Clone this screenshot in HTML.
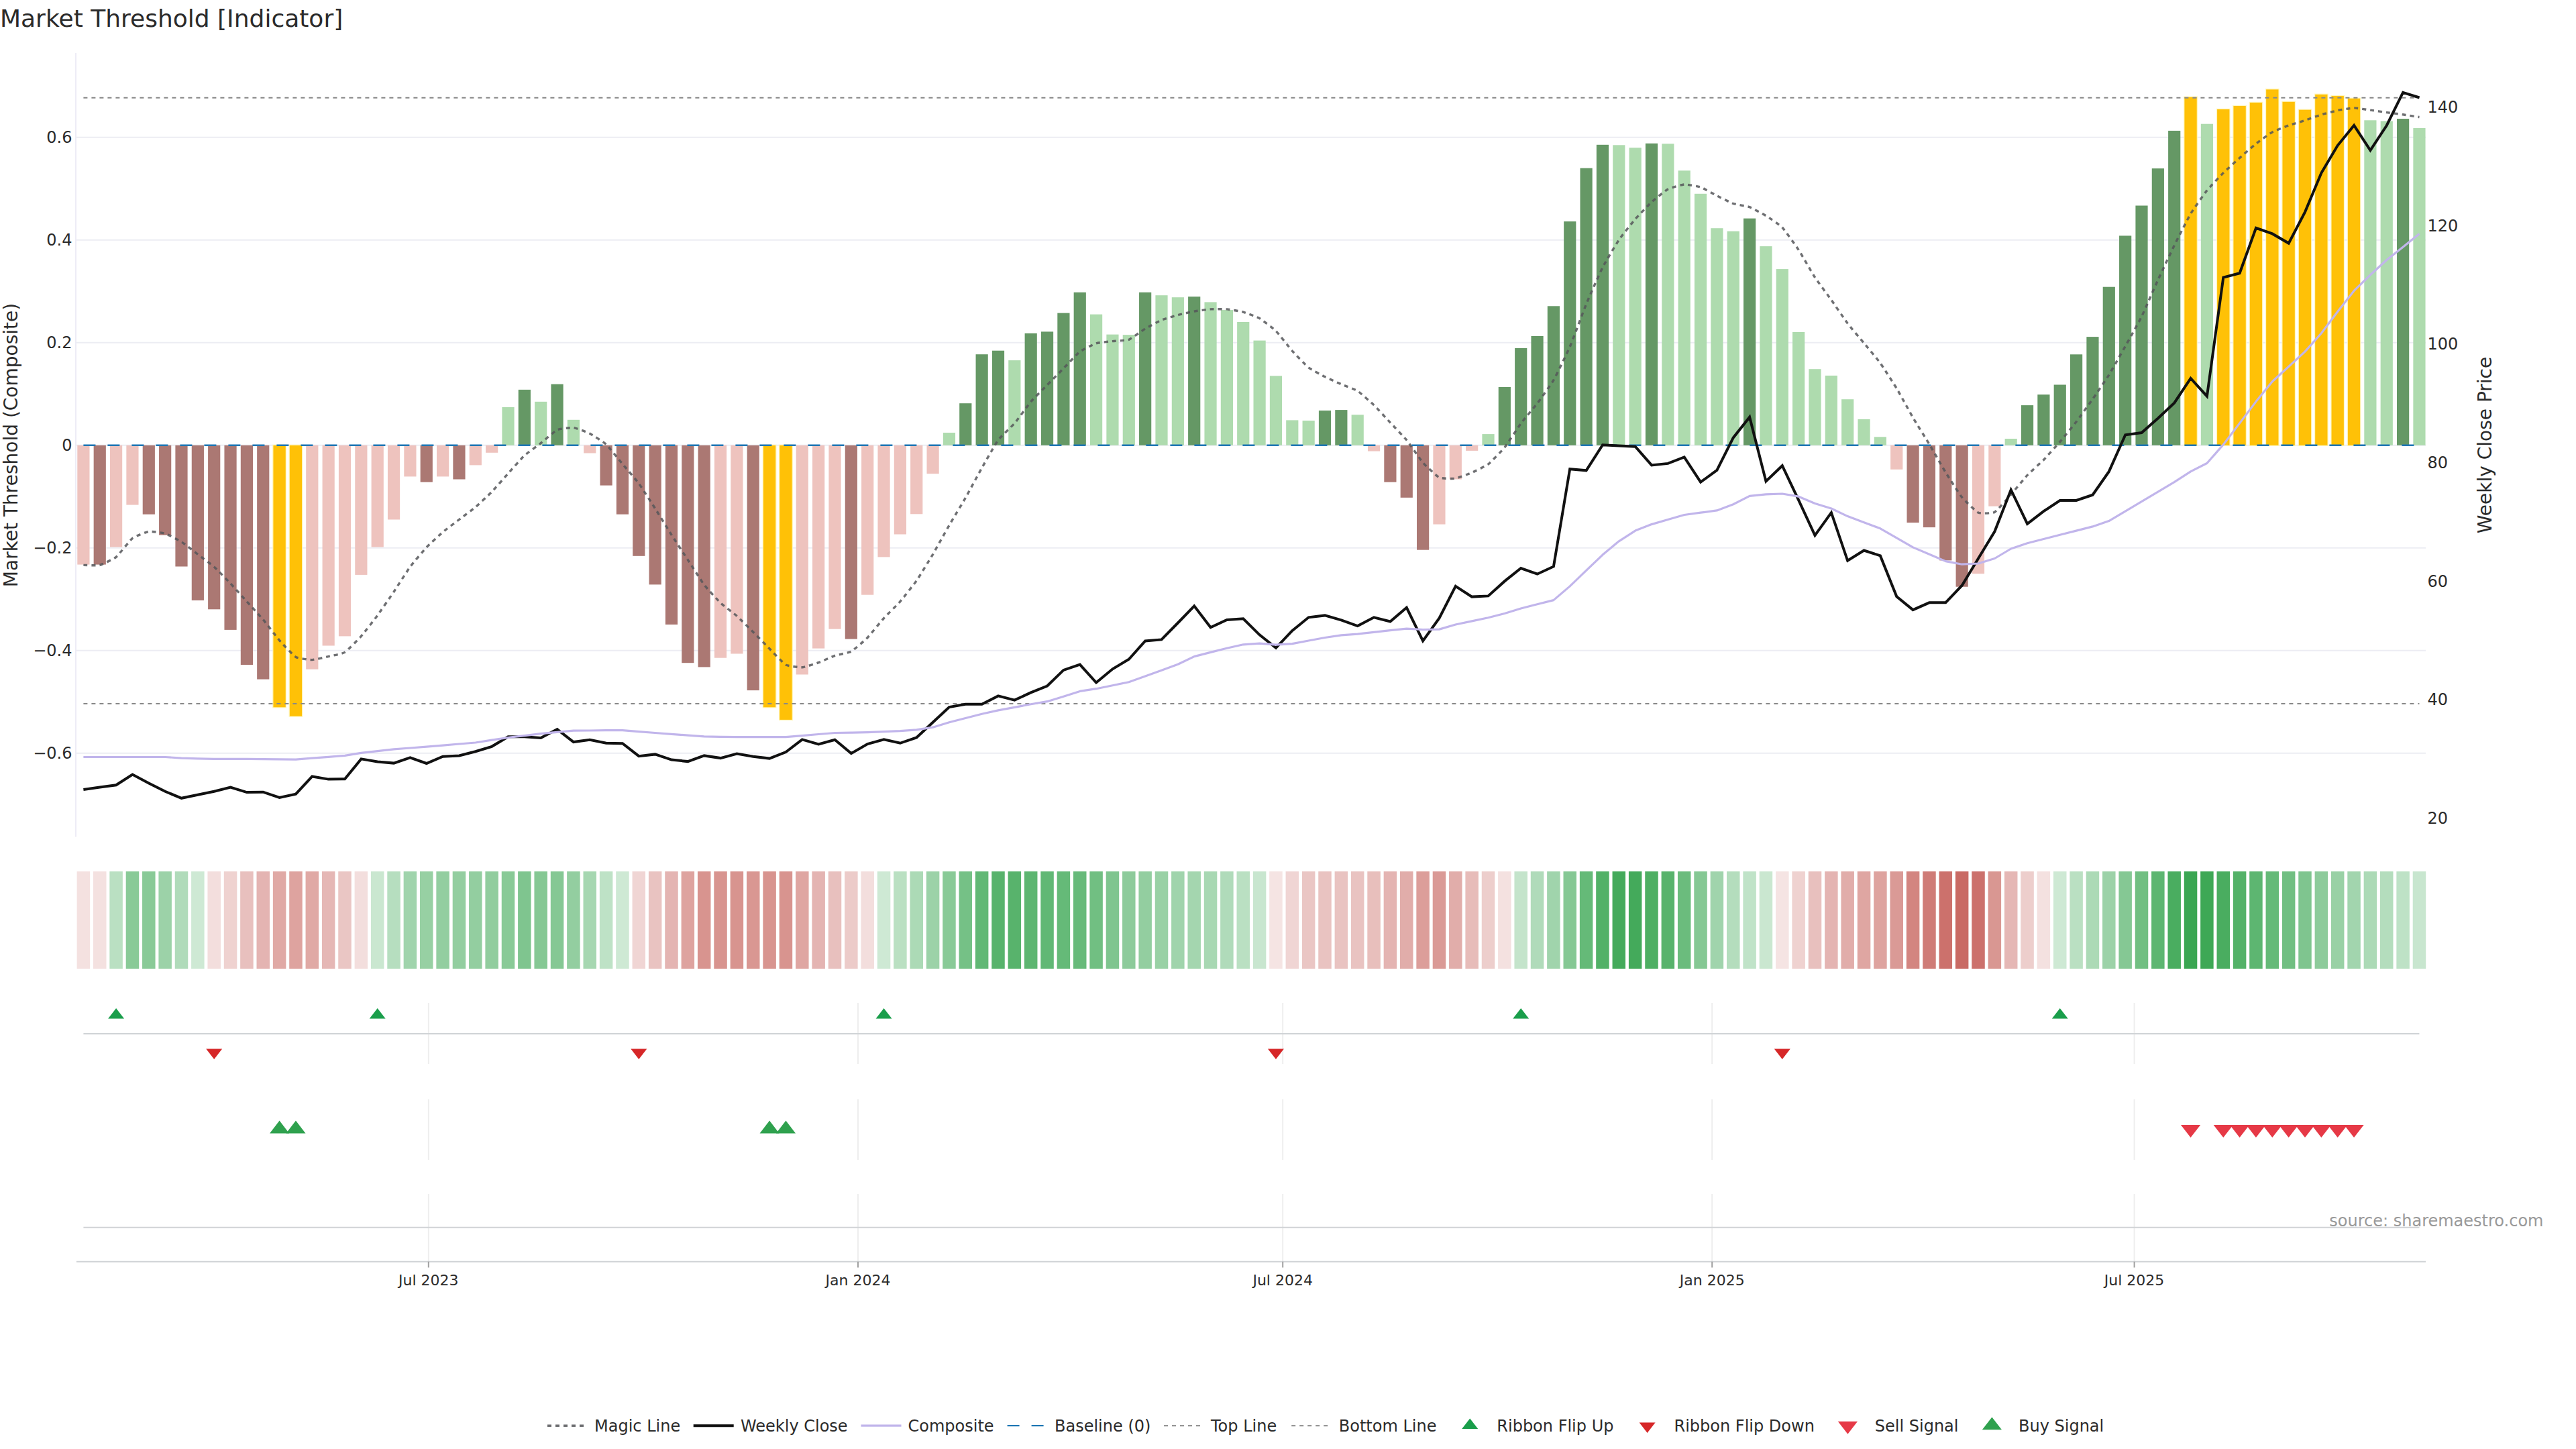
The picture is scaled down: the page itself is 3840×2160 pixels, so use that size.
<!DOCTYPE html>
<html><head><meta charset="utf-8"><title>Market Threshold [Indicator]</title>
<style>html,body{margin:0;padding:0;background:#fff;}svg{display:block}</style></head>
<body>
<svg width="3840" height="2160" viewBox="0 0 3840 2160" font-family="'DejaVu Sans','Liberation Sans',sans-serif">
<rect width="3840" height="2160" fill="#fff"/>
<line x1="113.0" x2="3616.0" y1="204.8" y2="204.8" stroke="#ECEDF3" stroke-width="2"/>
<line x1="113.0" x2="3616.0" y1="357.8" y2="357.8" stroke="#ECEDF3" stroke-width="2"/>
<line x1="113.0" x2="3616.0" y1="510.8" y2="510.8" stroke="#ECEDF3" stroke-width="2"/>
<line x1="113.0" x2="3616.0" y1="663.8" y2="663.8" stroke="#ECEDF3" stroke-width="2"/>
<line x1="113.0" x2="3616.0" y1="816.8" y2="816.8" stroke="#ECEDF3" stroke-width="2"/>
<line x1="113.0" x2="3616.0" y1="969.8" y2="969.8" stroke="#ECEDF3" stroke-width="2"/>
<line x1="113.0" x2="3616.0" y1="1122.8" y2="1122.8" stroke="#ECEDF3" stroke-width="2"/>
<line x1="113.0" x2="113.0" y1="79.0" y2="1247.5" stroke="#EDECF6" stroke-width="2"/>
<rect x="115.30" y="663.8" width="18.2" height="177.8" fill="#EEC3BE"/>
<rect x="139.65" y="663.8" width="18.2" height="177.8" fill="#AB7873"/>
<rect x="164.00" y="663.8" width="18.2" height="151.7" fill="#EEC3BE"/>
<rect x="188.35" y="663.8" width="18.2" height="88.8" fill="#EEC3BE"/>
<rect x="212.70" y="663.8" width="18.2" height="102.9" fill="#AB7873"/>
<rect x="237.05" y="663.8" width="18.2" height="133.9" fill="#AB7873"/>
<rect x="261.40" y="663.8" width="18.2" height="180.7" fill="#AB7873"/>
<rect x="285.75" y="663.8" width="18.2" height="231.2" fill="#AB7873"/>
<rect x="310.10" y="663.8" width="18.2" height="244.5" fill="#AB7873"/>
<rect x="334.45" y="663.8" width="18.2" height="275.1" fill="#AB7873"/>
<rect x="358.80" y="663.8" width="18.2" height="327.3" fill="#AB7873"/>
<rect x="383.15" y="663.8" width="18.2" height="348.8" fill="#AB7873"/>
<rect x="406.85" y="663.3" width="19.5" height="391.6" fill="#FFC107" stroke="#FFF6B8" stroke-width="1.2"/>
<rect x="431.20" y="663.3" width="19.5" height="404.8" fill="#FFC107" stroke="#FFF6B8" stroke-width="1.2"/>
<rect x="456.20" y="663.8" width="18.2" height="333.9" fill="#EEC3BE"/>
<rect x="480.55" y="663.8" width="18.2" height="298.7" fill="#EEC3BE"/>
<rect x="504.90" y="663.8" width="18.2" height="284.6" fill="#EEC3BE"/>
<rect x="529.25" y="663.8" width="18.2" height="193.1" fill="#EEC3BE"/>
<rect x="553.60" y="663.8" width="18.2" height="151.7" fill="#EEC3BE"/>
<rect x="577.95" y="663.8" width="18.2" height="110.7" fill="#EEC3BE"/>
<rect x="602.30" y="663.8" width="18.2" height="46.6" fill="#EEC3BE"/>
<rect x="626.65" y="663.8" width="18.2" height="54.9" fill="#AB7873"/>
<rect x="651.00" y="663.8" width="18.2" height="46.6" fill="#EEC3BE"/>
<rect x="675.35" y="663.8" width="18.2" height="50.7" fill="#AB7873"/>
<rect x="699.70" y="663.8" width="18.2" height="29.6" fill="#EEC3BE"/>
<rect x="724.05" y="663.8" width="18.2" height="11.0" fill="#EEC3BE"/>
<rect x="748.40" y="607.0" width="18.2" height="56.8" fill="#AEDBAE"/>
<rect x="772.75" y="580.9" width="18.2" height="82.9" fill="#659865"/>
<rect x="797.10" y="598.8" width="18.2" height="65.0" fill="#AEDBAE"/>
<rect x="821.45" y="572.7" width="18.2" height="91.1" fill="#659865"/>
<rect x="845.80" y="625.8" width="18.2" height="38.0" fill="#AEDBAE"/>
<rect x="870.15" y="663.8" width="18.2" height="11.7" fill="#EEC3BE"/>
<rect x="894.50" y="663.8" width="18.2" height="59.8" fill="#AB7873"/>
<rect x="918.85" y="663.8" width="18.2" height="102.9" fill="#AB7873"/>
<rect x="943.20" y="663.8" width="18.2" height="165.0" fill="#AB7873"/>
<rect x="967.55" y="663.8" width="18.2" height="207.6" fill="#AB7873"/>
<rect x="991.90" y="663.8" width="18.2" height="267.2" fill="#AB7873"/>
<rect x="1016.25" y="663.8" width="18.2" height="324.4" fill="#AB7873"/>
<rect x="1040.60" y="663.8" width="18.2" height="330.6" fill="#AB7873"/>
<rect x="1064.95" y="663.8" width="18.2" height="316.9" fill="#EEC3BE"/>
<rect x="1089.30" y="663.8" width="18.2" height="310.7" fill="#EEC3BE"/>
<rect x="1113.65" y="663.8" width="18.2" height="365.3" fill="#AB7873"/>
<rect x="1137.35" y="663.3" width="19.5" height="391.6" fill="#FFC107" stroke="#FFF6B8" stroke-width="1.2"/>
<rect x="1161.70" y="663.3" width="19.5" height="410.2" fill="#FFC107" stroke="#FFF6B8" stroke-width="1.2"/>
<rect x="1186.70" y="663.8" width="18.2" height="341.7" fill="#EEC3BE"/>
<rect x="1211.05" y="663.8" width="18.2" height="302.8" fill="#EEC3BE"/>
<rect x="1235.40" y="663.8" width="18.2" height="273.9" fill="#EEC3BE"/>
<rect x="1259.75" y="663.8" width="18.2" height="288.8" fill="#AB7873"/>
<rect x="1284.10" y="663.8" width="18.2" height="222.9" fill="#EEC3BE"/>
<rect x="1308.45" y="663.8" width="18.2" height="166.6" fill="#EEC3BE"/>
<rect x="1332.80" y="663.8" width="18.2" height="132.7" fill="#EEC3BE"/>
<rect x="1357.15" y="663.8" width="18.2" height="102.5" fill="#EEC3BE"/>
<rect x="1381.50" y="663.8" width="18.2" height="42.4" fill="#EEC3BE"/>
<rect x="1405.85" y="645.0" width="18.2" height="18.8" fill="#AEDBAE"/>
<rect x="1430.20" y="601.2" width="18.2" height="62.6" fill="#659865"/>
<rect x="1454.55" y="528.2" width="18.2" height="135.6" fill="#659865"/>
<rect x="1478.90" y="522.7" width="18.2" height="141.1" fill="#659865"/>
<rect x="1503.25" y="537.1" width="18.2" height="126.7" fill="#AEDBAE"/>
<rect x="1527.60" y="496.9" width="18.2" height="166.9" fill="#659865"/>
<rect x="1551.95" y="494.4" width="18.2" height="169.4" fill="#659865"/>
<rect x="1576.30" y="466.6" width="18.2" height="197.2" fill="#659865"/>
<rect x="1600.65" y="435.8" width="18.2" height="228.0" fill="#659865"/>
<rect x="1625.00" y="468.6" width="18.2" height="195.2" fill="#AEDBAE"/>
<rect x="1649.35" y="498.6" width="18.2" height="165.2" fill="#AEDBAE"/>
<rect x="1673.70" y="499.1" width="18.2" height="164.7" fill="#AEDBAE"/>
<rect x="1698.05" y="435.8" width="18.2" height="228.0" fill="#659865"/>
<rect x="1722.40" y="440.2" width="18.2" height="223.6" fill="#AEDBAE"/>
<rect x="1746.75" y="443.2" width="18.2" height="220.6" fill="#AEDBAE"/>
<rect x="1771.10" y="442.2" width="18.2" height="221.6" fill="#659865"/>
<rect x="1795.45" y="450.4" width="18.2" height="213.4" fill="#AEDBAE"/>
<rect x="1819.80" y="462.1" width="18.2" height="201.7" fill="#AEDBAE"/>
<rect x="1844.15" y="480.0" width="18.2" height="183.8" fill="#AEDBAE"/>
<rect x="1868.50" y="507.6" width="18.2" height="156.2" fill="#AEDBAE"/>
<rect x="1892.85" y="560.3" width="18.2" height="103.5" fill="#AEDBAE"/>
<rect x="1917.20" y="626.4" width="18.2" height="37.4" fill="#AEDBAE"/>
<rect x="1941.55" y="627.0" width="18.2" height="36.8" fill="#AEDBAE"/>
<rect x="1965.90" y="612.0" width="18.2" height="51.8" fill="#659865"/>
<rect x="1990.25" y="611.1" width="18.2" height="52.7" fill="#659865"/>
<rect x="2014.60" y="618.3" width="18.2" height="45.5" fill="#AEDBAE"/>
<rect x="2038.95" y="663.8" width="18.2" height="8.8" fill="#EEC3BE"/>
<rect x="2063.30" y="663.8" width="18.2" height="54.9" fill="#AB7873"/>
<rect x="2087.65" y="663.8" width="18.2" height="78.0" fill="#AB7873"/>
<rect x="2112.00" y="663.8" width="18.2" height="155.9" fill="#AB7873"/>
<rect x="2136.35" y="663.8" width="18.2" height="117.8" fill="#EEC3BE"/>
<rect x="2160.70" y="663.8" width="18.2" height="50.7" fill="#EEC3BE"/>
<rect x="2185.05" y="663.8" width="18.2" height="8.1" fill="#EEC3BE"/>
<rect x="2209.40" y="647.1" width="18.2" height="16.7" fill="#AEDBAE"/>
<rect x="2233.75" y="577.0" width="18.2" height="86.8" fill="#659865"/>
<rect x="2258.10" y="518.9" width="18.2" height="144.9" fill="#659865"/>
<rect x="2282.45" y="501.0" width="18.2" height="162.8" fill="#659865"/>
<rect x="2306.80" y="456.3" width="18.2" height="207.5" fill="#659865"/>
<rect x="2331.15" y="330.1" width="18.2" height="333.7" fill="#659865"/>
<rect x="2355.50" y="250.6" width="18.2" height="413.2" fill="#659865"/>
<rect x="2379.85" y="215.8" width="18.2" height="448.0" fill="#659865"/>
<rect x="2404.20" y="216.3" width="18.2" height="447.5" fill="#AEDBAE"/>
<rect x="2428.55" y="220.2" width="18.2" height="443.6" fill="#AEDBAE"/>
<rect x="2452.90" y="213.8" width="18.2" height="450.0" fill="#659865"/>
<rect x="2477.25" y="214.3" width="18.2" height="449.5" fill="#AEDBAE"/>
<rect x="2501.60" y="254.3" width="18.2" height="409.5" fill="#AEDBAE"/>
<rect x="2525.95" y="288.8" width="18.2" height="375.0" fill="#AEDBAE"/>
<rect x="2550.30" y="340.2" width="18.2" height="323.6" fill="#AEDBAE"/>
<rect x="2574.65" y="344.7" width="18.2" height="319.1" fill="#AEDBAE"/>
<rect x="2599.00" y="325.6" width="18.2" height="338.2" fill="#659865"/>
<rect x="2623.35" y="367.1" width="18.2" height="296.7" fill="#AEDBAE"/>
<rect x="2647.70" y="401.1" width="18.2" height="262.7" fill="#AEDBAE"/>
<rect x="2672.05" y="495.0" width="18.2" height="168.8" fill="#AEDBAE"/>
<rect x="2696.40" y="550.2" width="18.2" height="113.6" fill="#AEDBAE"/>
<rect x="2720.75" y="559.9" width="18.2" height="103.9" fill="#AEDBAE"/>
<rect x="2745.10" y="595.2" width="18.2" height="68.6" fill="#AEDBAE"/>
<rect x="2769.45" y="625.0" width="18.2" height="38.8" fill="#AEDBAE"/>
<rect x="2793.80" y="651.3" width="18.2" height="12.5" fill="#AEDBAE"/>
<rect x="2818.15" y="663.8" width="18.2" height="36.0" fill="#EEC3BE"/>
<rect x="2842.50" y="663.8" width="18.2" height="115.3" fill="#AB7873"/>
<rect x="2866.85" y="663.8" width="18.2" height="122.3" fill="#AB7873"/>
<rect x="2891.20" y="663.8" width="18.2" height="171.6" fill="#AB7873"/>
<rect x="2915.55" y="663.8" width="18.2" height="210.9" fill="#AB7873"/>
<rect x="2939.90" y="663.8" width="18.2" height="191.5" fill="#EEC3BE"/>
<rect x="2964.25" y="663.8" width="18.2" height="90.9" fill="#EEC3BE"/>
<rect x="2988.60" y="654.0" width="18.2" height="9.8" fill="#AEDBAE"/>
<rect x="3012.95" y="604.1" width="18.2" height="59.7" fill="#659865"/>
<rect x="3037.30" y="588.2" width="18.2" height="75.6" fill="#659865"/>
<rect x="3061.65" y="573.5" width="18.2" height="90.3" fill="#659865"/>
<rect x="3086.00" y="528.3" width="18.2" height="135.5" fill="#659865"/>
<rect x="3110.35" y="502.1" width="18.2" height="161.7" fill="#659865"/>
<rect x="3134.70" y="427.7" width="18.2" height="236.1" fill="#659865"/>
<rect x="3159.05" y="351.4" width="18.2" height="312.4" fill="#659865"/>
<rect x="3183.40" y="306.5" width="18.2" height="357.3" fill="#659865"/>
<rect x="3207.75" y="251.1" width="18.2" height="412.7" fill="#659865"/>
<rect x="3232.10" y="194.9" width="18.2" height="468.9" fill="#659865"/>
<rect x="3255.80" y="144.2" width="19.5" height="520.1" fill="#FFC107" stroke="#FFF6B8" stroke-width="1.2"/>
<rect x="3280.80" y="184.7" width="18.2" height="479.1" fill="#AEDBAE"/>
<rect x="3304.50" y="162.4" width="19.5" height="501.9" fill="#FFC107" stroke="#FFF6B8" stroke-width="1.2"/>
<rect x="3328.85" y="157.4" width="19.5" height="506.9" fill="#FFC107" stroke="#FFF6B8" stroke-width="1.2"/>
<rect x="3353.20" y="152.4" width="19.5" height="511.9" fill="#FFC107" stroke="#FFF6B8" stroke-width="1.2"/>
<rect x="3377.55" y="132.8" width="19.5" height="531.5" fill="#FFC107" stroke="#FFF6B8" stroke-width="1.2"/>
<rect x="3401.90" y="151.2" width="19.5" height="513.1" fill="#FFC107" stroke="#FFF6B8" stroke-width="1.2"/>
<rect x="3426.25" y="163.1" width="19.5" height="501.2" fill="#FFC107" stroke="#FFF6B8" stroke-width="1.2"/>
<rect x="3450.60" y="140.2" width="19.5" height="524.1" fill="#FFC107" stroke="#FFF6B8" stroke-width="1.2"/>
<rect x="3474.95" y="142.5" width="19.5" height="521.8" fill="#FFC107" stroke="#FFF6B8" stroke-width="1.2"/>
<rect x="3499.30" y="146.2" width="19.5" height="518.1" fill="#FFC107" stroke="#FFF6B8" stroke-width="1.2"/>
<rect x="3524.30" y="179.3" width="18.2" height="484.5" fill="#AEDBAE"/>
<rect x="3548.65" y="180.5" width="18.2" height="483.3" fill="#AEDBAE"/>
<rect x="3573.00" y="177.0" width="18.2" height="486.8" fill="#659865"/>
<rect x="3597.35" y="190.9" width="18.2" height="472.9" fill="#AEDBAE"/>
<path d="M124.4,842.4C126.0,842.4 145.5,843.2 148.8,842.4C152.0,841.6 169.9,833.1 173.1,830.4C176.3,827.8 194.2,804.8 197.5,802.3C200.7,799.7 218.6,792.8 221.8,792.3C225.0,791.9 242.9,794.2 246.2,795.2C249.4,796.3 267.3,805.6 270.5,807.7C273.7,809.7 291.6,823.8 294.9,826.3C298.1,828.8 316.0,842.0 319.2,844.9C322.4,847.8 340.3,866.3 343.6,869.8C346.8,873.2 364.7,893.1 367.9,896.7C371.1,900.3 389.0,919.7 392.2,923.6C395.5,927.4 413.4,950.9 416.6,954.6C419.8,958.3 437.7,977.5 441.0,979.5C444.2,981.4 462.1,983.7 465.3,983.6C468.5,983.5 486.4,979.4 489.6,978.6C492.9,977.9 510.8,974.4 514.0,972.4C517.2,970.4 535.1,952.1 538.4,948.4C541.6,944.7 559.5,921.8 562.7,917.4C565.9,912.9 583.8,887.0 587.1,882.2C590.3,877.3 608.2,849.3 611.4,844.9C614.6,840.5 632.5,819.4 635.8,815.9C639.0,812.5 656.9,795.9 660.1,793.2C663.3,790.4 681.2,777.0 684.5,774.5C687.7,772.1 705.6,758.7 708.8,755.9C712.0,753.2 729.9,736.5 733.1,733.1C736.4,729.8 754.3,709.4 757.5,705.8C760.7,702.2 778.6,681.9 781.9,678.9C785.1,675.9 803.0,663.2 806.2,660.6C809.4,658.1 827.3,642.3 830.6,640.7C833.8,639.2 851.7,637.2 854.9,637.5C858.1,637.9 876.0,644.6 879.2,646.2C882.5,647.9 900.4,659.3 903.6,662.4C906.8,665.4 924.7,687.9 928.0,691.7C931.2,695.6 949.1,716.3 952.3,720.7C955.5,725.1 973.4,752.9 976.6,758.0C979.9,763.1 997.8,792.2 1001.0,797.3C1004.2,802.4 1022.1,829.6 1025.4,834.6C1028.6,839.5 1046.5,867.5 1049.7,871.8C1052.9,876.1 1070.8,895.6 1074.1,898.7C1077.3,901.8 1095.2,915.3 1098.4,918.2C1101.6,921.1 1119.5,938.9 1122.8,942.2C1126.0,945.5 1143.9,963.8 1147.1,967.0C1150.3,970.3 1168.2,989.2 1171.5,991.1C1174.7,992.9 1192.6,995.0 1195.8,994.8C1199.0,994.6 1216.9,988.9 1220.2,987.7C1223.4,986.6 1241.3,978.5 1244.5,977.4C1247.7,976.3 1265.6,973.0 1268.9,971.2C1272.1,969.4 1290.0,953.8 1293.2,950.5C1296.4,947.2 1314.3,925.1 1317.6,921.5C1320.8,917.9 1338.7,900.4 1341.9,896.7C1345.1,892.9 1363.0,870.3 1366.3,865.6C1369.5,860.9 1387.4,831.8 1390.6,826.3C1393.8,820.8 1411.7,788.6 1415.0,783.0C1418.2,777.4 1436.1,747.7 1439.3,742.0C1442.5,736.3 1460.4,703.2 1463.7,697.5C1466.9,691.8 1484.8,660.3 1488.0,655.9C1491.2,651.5 1509.1,634.9 1512.4,631.1C1515.6,627.2 1533.5,602.6 1536.7,598.8C1539.9,594.9 1557.8,577.2 1561.1,573.9C1564.3,570.6 1582.2,552.4 1585.4,549.1C1588.6,545.8 1606.5,526.7 1609.8,524.2C1613.0,521.7 1630.9,512.8 1634.1,511.8C1637.3,510.8 1655.2,508.9 1658.5,508.6C1661.7,508.2 1679.6,507.6 1682.8,506.3C1686.0,505.1 1703.9,491.9 1707.2,489.9C1710.4,488.0 1728.3,478.4 1731.5,477.0C1734.7,475.7 1752.6,470.4 1755.9,469.6C1759.1,468.7 1777.0,464.7 1780.2,464.1C1783.4,463.5 1801.3,461.1 1804.6,460.9C1807.8,460.7 1825.7,460.6 1828.9,460.9C1832.1,461.2 1850.0,464.2 1853.3,465.1C1856.5,466.0 1874.4,472.7 1877.6,474.5C1880.8,476.4 1898.7,490.1 1902.0,493.3C1905.2,496.5 1923.1,519.5 1926.3,523.1C1929.5,526.7 1947.4,545.4 1950.7,548.0C1953.9,550.5 1971.8,560.0 1975.0,561.6C1978.2,563.3 1996.1,571.4 1999.4,572.8C2002.6,574.2 2020.5,580.7 2023.7,582.7C2026.9,584.8 2044.8,600.7 2048.1,603.9C2051.3,607.0 2069.2,626.5 2072.4,629.9C2075.6,633.4 2093.5,652.0 2096.8,656.0C2100.0,660.0 2117.9,685.8 2121.1,689.6C2124.3,693.3 2142.2,710.4 2145.5,711.9C2148.7,713.5 2166.6,713.7 2169.8,713.2C2173.0,712.7 2190.9,705.9 2194.2,704.5C2197.4,703.1 2215.3,694.5 2218.5,692.0C2221.7,689.5 2239.6,671.1 2242.9,667.0C2246.1,662.9 2264.0,635.6 2267.2,631.2C2270.4,626.8 2288.3,605.7 2291.6,601.4C2294.8,597.1 2312.7,572.2 2315.9,566.6C2319.1,561.0 2337.0,524.4 2340.2,516.9C2343.5,509.3 2361.4,461.2 2364.6,453.3C2367.8,445.4 2385.7,405.0 2389.0,398.6C2392.2,392.3 2410.1,362.4 2413.3,357.6C2416.5,352.8 2434.4,330.3 2437.7,326.6C2440.9,322.8 2458.8,304.2 2462.0,301.2C2465.2,298.3 2483.1,283.6 2486.4,281.9C2489.6,280.1 2507.5,275.1 2510.7,274.9C2513.9,274.7 2531.8,277.8 2535.1,278.9C2538.3,280.0 2556.2,290.2 2559.4,291.8C2562.6,293.4 2580.5,302.4 2583.8,303.5C2587.0,304.6 2604.9,307.5 2608.1,308.7C2611.3,309.9 2629.2,319.6 2632.5,321.6C2635.7,323.6 2653.6,335.6 2656.8,339.0C2660.0,342.4 2677.9,367.6 2681.2,372.5C2684.4,377.5 2702.3,408.6 2705.5,413.5C2708.7,418.5 2726.6,442.5 2729.9,447.1C2733.1,451.7 2751.0,477.8 2754.2,482.1C2757.4,486.4 2775.3,507.5 2778.6,511.4C2781.8,515.4 2799.7,536.7 2802.9,541.2C2806.1,545.7 2824.0,573.6 2827.3,579.0C2830.5,584.4 2848.4,616.9 2851.6,622.5C2854.8,628.0 2872.7,656.8 2876.0,662.2C2879.2,667.7 2897.1,698.9 2900.3,704.2C2903.5,709.4 2921.4,737.4 2924.7,741.4C2927.9,745.4 2945.8,762.7 2949.0,764.2C2952.2,765.7 2970.1,765.2 2973.4,763.4C2976.6,761.6 2994.5,741.0 2997.7,737.3C3000.9,733.6 3018.8,711.8 3022.1,708.3C3025.3,704.9 3043.2,688.8 3046.4,685.5C3049.6,682.2 3067.5,662.4 3070.8,658.6C3074.0,654.8 3091.9,632.9 3095.1,628.7C3098.3,624.4 3116.2,599.6 3119.5,594.9C3122.7,590.3 3140.6,564.1 3143.8,558.9C3147.0,553.6 3164.9,521.9 3168.2,516.1C3171.4,510.4 3189.3,478.5 3192.5,471.9C3195.7,465.3 3213.6,424.3 3216.9,417.3C3220.1,410.2 3238.0,372.4 3241.2,365.8C3244.4,359.3 3262.3,324.1 3265.6,318.6C3268.8,313.2 3286.7,287.9 3289.9,283.9C3293.1,279.8 3311.0,261.0 3314.3,257.8C3317.5,254.5 3335.4,238.3 3338.6,235.4C3341.8,232.5 3359.7,216.9 3363.0,214.3C3366.2,211.7 3384.1,198.7 3387.3,196.9C3390.5,195.1 3408.4,188.1 3411.7,187.0C3414.9,185.8 3432.8,180.6 3436.0,179.5C3439.2,178.4 3457.1,171.8 3460.4,170.8C3463.6,169.8 3481.5,165.3 3484.7,164.6C3487.9,163.9 3505.8,160.9 3509.1,160.9C3512.3,160.8 3530.2,163.7 3533.4,164.1C3536.6,164.5 3554.5,167.1 3557.8,167.6C3561.0,168.0 3578.9,170.3 3582.1,170.8C3585.3,171.3 3604.8,174.3 3606.5,174.5" fill="none" stroke="#555659" stroke-opacity="0.85" stroke-width="3.4" stroke-dasharray="6,6"/>
<line x1="124.4" x2="3606.4500000000003" y1="663.8" y2="663.8" stroke="#1f77b4" stroke-width="2.4" stroke-dasharray="18,18"/>
<line x1="124.4" x2="3606.4500000000003" y1="145.8" y2="145.8" stroke="#888" stroke-width="2" stroke-dasharray="6,6"/>
<line x1="124.4" x2="3606.4500000000003" y1="1049" y2="1049" stroke="#888" stroke-width="2" stroke-dasharray="6,6"/>
<path d="M124.4,1176.9L148.8,1173.6L173.1,1170.3L197.5,1154.6L221.8,1167.4L246.2,1179.8L270.5,1189.8L294.9,1184.8L319.2,1179.8L343.6,1173.6L367.9,1181.1L392.2,1180.7L416.6,1188.9L441.0,1183.6L465.3,1157.5L489.6,1161.6L514.0,1161.2L538.4,1131.4L562.7,1135.5L587.1,1137.6L611.4,1129.3L635.8,1138.0L660.1,1127.7L684.5,1126.4L708.8,1120.2L733.1,1112.8L757.5,1098.3L781.9,1098.3L806.2,1099.9L830.6,1087.1L854.9,1106.1L879.2,1102.8L903.6,1107.8L928.0,1108.2L952.3,1127.2L976.6,1124.4L1001.0,1132.6L1025.4,1135.1L1049.7,1126.4L1074.1,1130.1L1098.4,1123.5L1122.8,1127.7L1147.1,1130.6L1171.5,1121.0L1195.8,1102.4L1220.2,1109.4L1244.5,1102.8L1268.9,1123.1L1293.2,1109.0L1317.6,1102.4L1341.9,1107.8L1366.3,1099.5L1390.6,1076.7L1415.0,1054.0L1439.3,1049.8L1463.7,1049.8L1488.0,1037.4L1512.4,1043.6L1536.7,1032.4L1561.1,1022.5L1585.4,998.9L1609.8,990.6L1634.1,1017.5L1658.5,997.3L1682.8,982.8L1707.2,955.4L1731.5,953.4L1755.9,928.5L1780.2,903.3L1804.6,935.2L1828.9,924.0L1853.3,922.3L1877.6,946.3L1902.0,965.8L1926.3,940.1L1950.7,920.3L1975.0,917.4L1999.4,924.4L2023.7,933.1L2048.1,920.3L2072.4,926.5L2096.8,905.8L2121.1,955.4L2145.5,921.5L2169.8,873.9L2194.2,889.6L2218.5,888.4L2242.9,866.4L2267.2,847.0L2291.6,855.7L2315.9,844.5L2340.2,699.2L2364.6,701.3L2389.0,663.2L2413.3,664.4L2437.7,665.7L2462.0,693.4L2486.4,690.9L2510.7,681.4L2535.1,718.7L2559.4,700.9L2583.8,652.4L2608.1,621.7L2632.5,717.4L2656.8,694.2L2681.2,745.6L2705.5,798.1L2729.9,764.2L2754.2,835.8L2778.6,820.5L2802.9,828.4L2827.3,889.2L2851.6,909.1L2876.0,898.3L2900.3,898.3L2924.7,872.7L2949.0,832.5L2973.4,792.3L2997.7,730.2L3022.1,780.8L3046.4,762.1L3070.8,746.0L3095.1,746.0L3119.5,737.7L3143.8,702.9L3168.2,648.3L3192.5,645.1L3216.9,623.5L3241.2,600.6L3265.6,563.9L3289.9,590.7L3314.3,413.5L3338.6,407.3L3363.0,339.8L3387.3,348.4L3411.7,362.6L3436.0,316.1L3460.4,257.8L3484.7,216.8L3509.1,187.0L3533.4,224.2L3557.8,187.0L3582.1,137.8L3606.5,145.5" fill="none" stroke="#111" stroke-width="4" stroke-linejoin="miter"/>
<path d="M124.4,1128.5L148.8,1128.5L173.1,1128.5L197.5,1128.5L221.8,1128.5L246.2,1128.5L270.5,1130.1L294.9,1130.8L319.2,1131.4L343.6,1131.4L367.9,1131.4L392.2,1131.7L416.6,1131.9L441.0,1132.2L465.3,1130.1L489.6,1128.3L514.0,1126.4L538.4,1122.3L562.7,1119.6L587.1,1116.9L611.4,1115.0L635.8,1113.2L660.1,1111.1L684.5,1109.0L708.8,1107.0L733.1,1103.2L757.5,1099.5L781.9,1096.6L806.2,1093.7L830.6,1091.4L854.9,1089.2L879.2,1089.0L903.6,1088.7L928.0,1088.7L952.3,1090.6L976.6,1092.5L1001.0,1094.3L1025.4,1096.2L1049.7,1097.9L1074.1,1098.3L1098.4,1098.7L1122.8,1098.7L1147.1,1098.7L1171.5,1098.7L1195.8,1096.6L1220.2,1094.5L1244.5,1092.5L1268.9,1092.1L1293.2,1091.6L1317.6,1090.6L1341.9,1089.6L1366.3,1087.9L1390.6,1084.2L1415.0,1076.7L1439.3,1070.5L1463.7,1064.3L1488.0,1058.9L1512.4,1054.4L1536.7,1049.8L1561.1,1045.7L1585.4,1038.2L1609.8,1030.4L1634.1,1026.7L1658.5,1021.7L1682.8,1016.7L1707.2,1008.0L1731.5,999.3L1755.9,990.2L1780.2,978.6L1804.6,972.4L1828.9,966.2L1853.3,960.8L1877.6,959.2L1902.0,961.2L1926.3,959.6L1950.7,955.0L1975.0,950.5L1999.4,946.8L2023.7,945.1L2048.1,942.4L2072.4,939.7L2096.8,937.2L2121.1,938.5L2145.5,938.1L2169.8,931.0L2194.2,925.9L2218.5,920.7L2242.9,914.5L2267.2,907.0L2291.6,900.8L2315.9,894.6L2340.2,873.9L2364.6,850.3L2389.0,827.1L2413.3,806.8L2437.7,791.1L2462.0,781.6L2486.4,774.5L2510.7,767.5L2535.1,764.2L2559.4,760.9L2583.8,751.8L2608.1,739.4L2632.5,736.9L2656.8,736.0L2681.2,740.2L2705.5,750.5L2729.9,758.0L2754.2,769.6L2778.6,778.7L2802.9,787.8L2827.3,801.9L2851.6,815.9L2876.0,826.3L2900.3,836.6L2924.7,841.2L2949.0,840.0L2973.4,832.5L2997.7,818.0L3022.1,809.7L3046.4,803.5L3070.8,797.3L3095.1,791.1L3119.5,784.9L3143.8,776.6L3168.2,762.1L3192.5,747.6L3216.9,733.1L3241.2,718.7L3265.6,702.9L3289.9,690.5L3314.3,662.8L3338.6,630.9L3363.0,598.6L3387.3,568.8L3411.7,546.5L3436.0,524.1L3460.4,496.8L3484.7,464.5L3509.1,433.4L3533.4,409.8L3557.8,387.5L3582.1,368.3L3606.5,348.4" fill="none" stroke="#C1B5EB" stroke-width="3.2" stroke-linejoin="round"/>
<text x="107.5" y="213.4" font-size="24" fill="#2b2b2b" text-anchor="end">0.6</text>
<text x="107.5" y="366.4" font-size="24" fill="#2b2b2b" text-anchor="end">0.4</text>
<text x="107.5" y="519.4" font-size="24" fill="#2b2b2b" text-anchor="end">0.2</text>
<text x="107.5" y="672.4" font-size="24" fill="#2b2b2b" text-anchor="end">0</text>
<text x="107.5" y="825.4" font-size="24" fill="#2b2b2b" text-anchor="end">−0.2</text>
<text x="107.5" y="978.4" font-size="24" fill="#2b2b2b" text-anchor="end">−0.4</text>
<text x="107.5" y="1131.4" font-size="24" fill="#2b2b2b" text-anchor="end">−0.6</text>
<text transform="translate(26,663.5) rotate(-90)" font-size="28" fill="#2b2b2b" text-anchor="middle">Market Threshold (Composite)</text>
<text x="3618.5" y="1228.0" font-size="24" fill="#2b2b2b">20</text>
<text x="3618.5" y="1051.3" font-size="24" fill="#2b2b2b">40</text>
<text x="3618.5" y="874.7" font-size="24" fill="#2b2b2b">60</text>
<text x="3618.5" y="698.0" font-size="24" fill="#2b2b2b">80</text>
<text x="3618.5" y="521.3" font-size="24" fill="#2b2b2b">100</text>
<text x="3618.5" y="344.7" font-size="24" fill="#2b2b2b">120</text>
<text x="3618.5" y="168.0" font-size="24" fill="#2b2b2b">140</text>
<text transform="translate(3713.5,663.5) rotate(-90)" font-size="28" fill="#2b2b2b" text-anchor="middle">Weekly Close Price</text>
<text x="0" y="40" font-size="36" fill="#2b2b2b">Market Threshold [Indicator]</text>
<rect x="114.65" y="1299" width="19.5" height="145" fill="#f4e1e0"/>
<rect x="139.00" y="1299" width="19.5" height="145" fill="#f4e1e0"/>
<rect x="163.35" y="1299" width="19.5" height="145" fill="#bae0c2"/>
<rect x="187.70" y="1299" width="19.5" height="145" fill="#89ca97"/>
<rect x="212.05" y="1299" width="19.5" height="145" fill="#89ca97"/>
<rect x="236.40" y="1299" width="19.5" height="145" fill="#9cd2a8"/>
<rect x="260.75" y="1299" width="19.5" height="145" fill="#b0dbba"/>
<rect x="285.10" y="1299" width="19.5" height="145" fill="#cee9d4"/>
<rect x="309.45" y="1299" width="19.5" height="145" fill="#f3dedd"/>
<rect x="333.80" y="1299" width="19.5" height="145" fill="#efd2d0"/>
<rect x="358.15" y="1299" width="19.5" height="145" fill="#e8c0be"/>
<rect x="382.50" y="1299" width="19.5" height="145" fill="#e4b4b2"/>
<rect x="406.85" y="1299" width="19.5" height="145" fill="#e0a9a5"/>
<rect x="431.20" y="1299" width="19.5" height="145" fill="#dea39f"/>
<rect x="455.55" y="1299" width="19.5" height="145" fill="#e0a9a5"/>
<rect x="479.90" y="1299" width="19.5" height="145" fill="#e5b7b5"/>
<rect x="504.25" y="1299" width="19.5" height="145" fill="#eac6c4"/>
<rect x="528.60" y="1299" width="19.5" height="145" fill="#f3dedd"/>
<rect x="552.95" y="1299" width="19.5" height="145" fill="#cae7d0"/>
<rect x="577.30" y="1299" width="19.5" height="145" fill="#b6debf"/>
<rect x="601.65" y="1299" width="19.5" height="145" fill="#a0d4ac"/>
<rect x="626.00" y="1299" width="19.5" height="145" fill="#97d0a3"/>
<rect x="650.35" y="1299" width="19.5" height="145" fill="#93cea0"/>
<rect x="674.70" y="1299" width="19.5" height="145" fill="#93cea0"/>
<rect x="699.05" y="1299" width="19.5" height="145" fill="#93cea0"/>
<rect x="723.40" y="1299" width="19.5" height="145" fill="#91cd9e"/>
<rect x="747.75" y="1299" width="19.5" height="145" fill="#89ca97"/>
<rect x="772.10" y="1299" width="19.5" height="145" fill="#7fc58f"/>
<rect x="796.45" y="1299" width="19.5" height="145" fill="#85c894"/>
<rect x="820.80" y="1299" width="19.5" height="145" fill="#85c894"/>
<rect x="845.15" y="1299" width="19.5" height="145" fill="#93cea0"/>
<rect x="869.50" y="1299" width="19.5" height="145" fill="#a6d7b1"/>
<rect x="893.85" y="1299" width="19.5" height="145" fill="#bee2c6"/>
<rect x="918.20" y="1299" width="19.5" height="145" fill="#cee9d4"/>
<rect x="942.55" y="1299" width="19.5" height="145" fill="#f0d5d4"/>
<rect x="966.90" y="1299" width="19.5" height="145" fill="#e9c3c1"/>
<rect x="991.25" y="1299" width="19.5" height="145" fill="#e4b4b2"/>
<rect x="1015.60" y="1299" width="19.5" height="145" fill="#dea39f"/>
<rect x="1039.95" y="1299" width="19.5" height="145" fill="#d8948f"/>
<rect x="1064.30" y="1299" width="19.5" height="145" fill="#d8948f"/>
<rect x="1088.65" y="1299" width="19.5" height="145" fill="#d8948f"/>
<rect x="1113.00" y="1299" width="19.5" height="145" fill="#d99792"/>
<rect x="1137.35" y="1299" width="19.5" height="145" fill="#d8948f"/>
<rect x="1161.70" y="1299" width="19.5" height="145" fill="#d8948f"/>
<rect x="1186.05" y="1299" width="19.5" height="145" fill="#dfa6a2"/>
<rect x="1210.40" y="1299" width="19.5" height="145" fill="#e4b4b2"/>
<rect x="1234.75" y="1299" width="19.5" height="145" fill="#e8c0be"/>
<rect x="1259.10" y="1299" width="19.5" height="145" fill="#eccbc9"/>
<rect x="1283.45" y="1299" width="19.5" height="145" fill="#f3dedd"/>
<rect x="1307.80" y="1299" width="19.5" height="145" fill="#cee9d4"/>
<rect x="1332.15" y="1299" width="19.5" height="145" fill="#bae0c2"/>
<rect x="1356.50" y="1299" width="19.5" height="145" fill="#acdab6"/>
<rect x="1380.85" y="1299" width="19.5" height="145" fill="#9cd2a8"/>
<rect x="1405.20" y="1299" width="19.5" height="145" fill="#89ca97"/>
<rect x="1429.55" y="1299" width="19.5" height="145" fill="#75c186"/>
<rect x="1453.90" y="1299" width="19.5" height="145" fill="#61b875"/>
<rect x="1478.25" y="1299" width="19.5" height="145" fill="#58b36c"/>
<rect x="1502.60" y="1299" width="19.5" height="145" fill="#58b36c"/>
<rect x="1526.95" y="1299" width="19.5" height="145" fill="#5db671"/>
<rect x="1551.30" y="1299" width="19.5" height="145" fill="#61b875"/>
<rect x="1575.65" y="1299" width="19.5" height="145" fill="#65ba78"/>
<rect x="1600.00" y="1299" width="19.5" height="145" fill="#67ba7a"/>
<rect x="1624.35" y="1299" width="19.5" height="145" fill="#71bf82"/>
<rect x="1648.70" y="1299" width="19.5" height="145" fill="#7fc58f"/>
<rect x="1673.05" y="1299" width="19.5" height="145" fill="#8dcb9b"/>
<rect x="1697.40" y="1299" width="19.5" height="145" fill="#93cea0"/>
<rect x="1721.75" y="1299" width="19.5" height="145" fill="#99d1a5"/>
<rect x="1746.10" y="1299" width="19.5" height="145" fill="#a0d4ac"/>
<rect x="1770.45" y="1299" width="19.5" height="145" fill="#a4d6af"/>
<rect x="1794.80" y="1299" width="19.5" height="145" fill="#a8d8b3"/>
<rect x="1819.15" y="1299" width="19.5" height="145" fill="#b0dbba"/>
<rect x="1843.50" y="1299" width="19.5" height="145" fill="#bae0c2"/>
<rect x="1867.85" y="1299" width="19.5" height="145" fill="#c8e6cf"/>
<rect x="1892.20" y="1299" width="19.5" height="145" fill="#f5e4e3"/>
<rect x="1916.55" y="1299" width="19.5" height="145" fill="#f0d5d4"/>
<rect x="1940.90" y="1299" width="19.5" height="145" fill="#eac6c4"/>
<rect x="1965.25" y="1299" width="19.5" height="145" fill="#e9c3c1"/>
<rect x="1989.60" y="1299" width="19.5" height="145" fill="#e9c3c1"/>
<rect x="2013.95" y="1299" width="19.5" height="145" fill="#e9c3c1"/>
<rect x="2038.30" y="1299" width="19.5" height="145" fill="#e8bfbc"/>
<rect x="2062.65" y="1299" width="19.5" height="145" fill="#e4b4b2"/>
<rect x="2087.00" y="1299" width="19.5" height="145" fill="#e1adaa"/>
<rect x="2111.35" y="1299" width="19.5" height="145" fill="#dc9e9a"/>
<rect x="2135.70" y="1299" width="19.5" height="145" fill="#da9a96"/>
<rect x="2160.05" y="1299" width="19.5" height="145" fill="#e1adaa"/>
<rect x="2184.40" y="1299" width="19.5" height="145" fill="#e7bcb9"/>
<rect x="2208.75" y="1299" width="19.5" height="145" fill="#edcecc"/>
<rect x="2233.10" y="1299" width="19.5" height="145" fill="#f4e1e0"/>
<rect x="2257.45" y="1299" width="19.5" height="145" fill="#c4e4cb"/>
<rect x="2281.80" y="1299" width="19.5" height="145" fill="#b0dbba"/>
<rect x="2306.15" y="1299" width="19.5" height="145" fill="#a0d4ac"/>
<rect x="2330.50" y="1299" width="19.5" height="145" fill="#85c894"/>
<rect x="2354.85" y="1299" width="19.5" height="145" fill="#65ba78"/>
<rect x="2379.20" y="1299" width="19.5" height="145" fill="#52b167"/>
<rect x="2403.55" y="1299" width="19.5" height="145" fill="#44aa5b"/>
<rect x="2427.90" y="1299" width="19.5" height="145" fill="#44aa5b"/>
<rect x="2452.25" y="1299" width="19.5" height="145" fill="#4eaf63"/>
<rect x="2476.60" y="1299" width="19.5" height="145" fill="#58b36c"/>
<rect x="2500.95" y="1299" width="19.5" height="145" fill="#6bbc7d"/>
<rect x="2525.30" y="1299" width="19.5" height="145" fill="#85c894"/>
<rect x="2549.65" y="1299" width="19.5" height="145" fill="#a0d4ac"/>
<rect x="2574.00" y="1299" width="19.5" height="145" fill="#b4ddbd"/>
<rect x="2598.35" y="1299" width="19.5" height="145" fill="#c0e3c8"/>
<rect x="2622.70" y="1299" width="19.5" height="145" fill="#cae7d0"/>
<rect x="2647.05" y="1299" width="19.5" height="145" fill="#f5e4e3"/>
<rect x="2671.40" y="1299" width="19.5" height="145" fill="#efd2d0"/>
<rect x="2695.75" y="1299" width="19.5" height="145" fill="#e8c0be"/>
<rect x="2720.10" y="1299" width="19.5" height="145" fill="#e4b4b2"/>
<rect x="2744.45" y="1299" width="19.5" height="145" fill="#e1adaa"/>
<rect x="2768.80" y="1299" width="19.5" height="145" fill="#dfa6a2"/>
<rect x="2793.15" y="1299" width="19.5" height="145" fill="#dea39f"/>
<rect x="2817.50" y="1299" width="19.5" height="145" fill="#da9a96"/>
<rect x="2841.85" y="1299" width="19.5" height="145" fill="#d38580"/>
<rect x="2866.20" y="1299" width="19.5" height="145" fill="#cf7c77"/>
<rect x="2890.55" y="1299" width="19.5" height="145" fill="#cc716c"/>
<rect x="2914.90" y="1299" width="19.5" height="145" fill="#c96a64"/>
<rect x="2939.25" y="1299" width="19.5" height="145" fill="#cc716c"/>
<rect x="2963.60" y="1299" width="19.5" height="145" fill="#d99792"/>
<rect x="2987.95" y="1299" width="19.5" height="145" fill="#e5b7b5"/>
<rect x="3012.30" y="1299" width="19.5" height="145" fill="#edcecc"/>
<rect x="3036.65" y="1299" width="19.5" height="145" fill="#f4e1e0"/>
<rect x="3061.00" y="1299" width="19.5" height="145" fill="#cee9d4"/>
<rect x="3085.35" y="1299" width="19.5" height="145" fill="#bae0c2"/>
<rect x="3109.70" y="1299" width="19.5" height="145" fill="#acdab6"/>
<rect x="3134.05" y="1299" width="19.5" height="145" fill="#9cd2a8"/>
<rect x="3158.40" y="1299" width="19.5" height="145" fill="#85c894"/>
<rect x="3182.75" y="1299" width="19.5" height="145" fill="#71bf82"/>
<rect x="3207.10" y="1299" width="19.5" height="145" fill="#5db671"/>
<rect x="3231.45" y="1299" width="19.5" height="145" fill="#4aad60"/>
<rect x="3255.80" y="1299" width="19.5" height="145" fill="#3aa652"/>
<rect x="3280.15" y="1299" width="19.5" height="145" fill="#3ea855"/>
<rect x="3304.50" y="1299" width="19.5" height="145" fill="#4aad60"/>
<rect x="3328.85" y="1299" width="19.5" height="145" fill="#54b268"/>
<rect x="3353.20" y="1299" width="19.5" height="145" fill="#5db671"/>
<rect x="3377.55" y="1299" width="19.5" height="145" fill="#65ba78"/>
<rect x="3401.90" y="1299" width="19.5" height="145" fill="#71bf82"/>
<rect x="3426.25" y="1299" width="19.5" height="145" fill="#7fc58f"/>
<rect x="3450.60" y="1299" width="19.5" height="145" fill="#8dcb9b"/>
<rect x="3474.95" y="1299" width="19.5" height="145" fill="#99d1a5"/>
<rect x="3499.30" y="1299" width="19.5" height="145" fill="#a2d5ae"/>
<rect x="3523.65" y="1299" width="19.5" height="145" fill="#acdab6"/>
<rect x="3548.00" y="1299" width="19.5" height="145" fill="#b4ddbd"/>
<rect x="3572.35" y="1299" width="19.5" height="145" fill="#bee2c6"/>
<rect x="3596.70" y="1299" width="19.5" height="145" fill="#c8e6cf"/>
<line x1="638.8" x2="638.8" y1="1495" y2="1586" stroke="#EEEEEE" stroke-width="2"/>
<line x1="638.8" x2="638.8" y1="1638.5" y2="1729" stroke="#EEEEEE" stroke-width="2"/>
<line x1="638.8" x2="638.8" y1="1780" y2="1880" stroke="#EEEEEE" stroke-width="2"/>
<line x1="1279.0" x2="1279.0" y1="1495" y2="1586" stroke="#EEEEEE" stroke-width="2"/>
<line x1="1279.0" x2="1279.0" y1="1638.5" y2="1729" stroke="#EEEEEE" stroke-width="2"/>
<line x1="1279.0" x2="1279.0" y1="1780" y2="1880" stroke="#EEEEEE" stroke-width="2"/>
<line x1="1912.2" x2="1912.2" y1="1495" y2="1586" stroke="#EEEEEE" stroke-width="2"/>
<line x1="1912.2" x2="1912.2" y1="1638.5" y2="1729" stroke="#EEEEEE" stroke-width="2"/>
<line x1="1912.2" x2="1912.2" y1="1780" y2="1880" stroke="#EEEEEE" stroke-width="2"/>
<line x1="2552.2" x2="2552.2" y1="1495" y2="1586" stroke="#EEEEEE" stroke-width="2"/>
<line x1="2552.2" x2="2552.2" y1="1638.5" y2="1729" stroke="#EEEEEE" stroke-width="2"/>
<line x1="2552.2" x2="2552.2" y1="1780" y2="1880" stroke="#EEEEEE" stroke-width="2"/>
<line x1="3181.6" x2="3181.6" y1="1495" y2="1586" stroke="#EEEEEE" stroke-width="2"/>
<line x1="3181.6" x2="3181.6" y1="1638.5" y2="1729" stroke="#EEEEEE" stroke-width="2"/>
<line x1="3181.6" x2="3181.6" y1="1780" y2="1880" stroke="#EEEEEE" stroke-width="2"/>
<line x1="124.4" x2="3606.4500000000003" y1="1540.9" y2="1540.9" stroke="#D0D3D6" stroke-width="2"/>
<line x1="124.4" x2="3606.4500000000003" y1="1829.8" y2="1829.8" stroke="#D0D3D6" stroke-width="2"/>
<line x1="113.9" x2="3616" y1="1880.7" y2="1880.7" stroke="#D0D3D6" stroke-width="2"/>
<line x1="638.8" x2="638.8" y1="1880.7" y2="1889.5" stroke="#A0A0A0" stroke-width="2"/>
<text x="638.8" y="1916" font-size="22" fill="#2b2b2b" text-anchor="middle">Jul 2023</text>
<line x1="1279.0" x2="1279.0" y1="1880.7" y2="1889.5" stroke="#A0A0A0" stroke-width="2"/>
<text x="1279.0" y="1916" font-size="22" fill="#2b2b2b" text-anchor="middle">Jan 2024</text>
<line x1="1912.2" x2="1912.2" y1="1880.7" y2="1889.5" stroke="#A0A0A0" stroke-width="2"/>
<text x="1912.2" y="1916" font-size="22" fill="#2b2b2b" text-anchor="middle">Jul 2024</text>
<line x1="2552.2" x2="2552.2" y1="1880.7" y2="1889.5" stroke="#A0A0A0" stroke-width="2"/>
<text x="2552.2" y="1916" font-size="22" fill="#2b2b2b" text-anchor="middle">Jan 2025</text>
<line x1="3181.6" x2="3181.6" y1="1880.7" y2="1889.5" stroke="#A0A0A0" stroke-width="2"/>
<text x="3181.6" y="1916" font-size="22" fill="#2b2b2b" text-anchor="middle">Jul 2025</text>
<path d="M161.09,1518.50H185.11L173.10,1502.90Z" fill="#1a9e4b"/>
<path d="M550.69,1518.50H574.71L562.70,1502.90Z" fill="#1a9e4b"/>
<path d="M1305.54,1518.50H1329.56L1317.55,1502.90Z" fill="#1a9e4b"/>
<path d="M2255.19,1518.50H2279.21L2267.20,1502.90Z" fill="#1a9e4b"/>
<path d="M3058.74,1518.50H3082.76L3070.75,1502.90Z" fill="#1a9e4b"/>
<path d="M307.19,1563.40H331.21L319.20,1579.00Z" fill="#d62728"/>
<path d="M940.29,1563.40H964.31L952.30,1579.00Z" fill="#d62728"/>
<path d="M1889.94,1563.40H1913.96L1901.95,1579.00Z" fill="#d62728"/>
<path d="M2644.79,1563.40H2668.81L2656.80,1579.00Z" fill="#d62728"/>
<path d="M402.05,1689.50H431.15L416.60,1670.60Z" fill="#2fa14e"/>
<path d="M426.40,1689.50H455.50L440.95,1670.60Z" fill="#2fa14e"/>
<path d="M1132.55,1689.50H1161.65L1147.10,1670.60Z" fill="#2fa14e"/>
<path d="M1156.90,1689.50H1186.00L1171.45,1670.60Z" fill="#2fa14e"/>
<path d="M3251.00,1676.90H3280.10L3265.55,1695.80Z" fill="#e63946"/>
<path d="M3299.70,1676.90H3328.80L3314.25,1695.80Z" fill="#e63946"/>
<path d="M3324.05,1676.90H3353.15L3338.60,1695.80Z" fill="#e63946"/>
<path d="M3348.40,1676.90H3377.50L3362.95,1695.80Z" fill="#e63946"/>
<path d="M3372.75,1676.90H3401.85L3387.30,1695.80Z" fill="#e63946"/>
<path d="M3397.10,1676.90H3426.20L3411.65,1695.80Z" fill="#e63946"/>
<path d="M3421.45,1676.90H3450.55L3436.00,1695.80Z" fill="#e63946"/>
<path d="M3445.80,1676.90H3474.90L3460.35,1695.80Z" fill="#e63946"/>
<path d="M3470.15,1676.90H3499.25L3484.70,1695.80Z" fill="#e63946"/>
<path d="M3494.50,1676.90H3523.60L3509.05,1695.80Z" fill="#e63946"/>
<text x="3791.5" y="1828" font-size="24" fill="#999" text-anchor="end">source: sharemaestro.com</text>
<line x1="816.0" x2="876.0" y1="2125.2" y2="2125.2" stroke="#555659" stroke-opacity="0.85" stroke-width="3.6" stroke-dasharray="6,6"/>
<text x="886" y="2133.8" font-size="24" fill="#2b2b2b">Magic Line</text>
<line x1="1033.7" x2="1093.7" y1="2125.2" y2="2125.2" stroke="#111" stroke-width="4"/>
<text x="1104" y="2133.8" font-size="24" fill="#2b2b2b">Weekly Close</text>
<line x1="1283.5" x2="1343.5" y1="2125.2" y2="2125.2" stroke="#C1B5EB" stroke-width="3.2"/>
<text x="1353.5" y="2133.8" font-size="24" fill="#2b2b2b">Composite</text>
<line x1="1501.6" x2="1561.6" y1="2125.2" y2="2125.2" stroke="#1f77b4" stroke-width="2.3" stroke-dasharray="18,18"/>
<text x="1572" y="2133.8" font-size="24" fill="#2b2b2b">Baseline (0)</text>
<line x1="1735" x2="1795" y1="2125.2" y2="2125.2" stroke="#888" stroke-width="2" stroke-dasharray="6,6"/>
<text x="1805" y="2133.8" font-size="24" fill="#2b2b2b">Top Line</text>
<line x1="1925.2" x2="1985.2" y1="2125.2" y2="2125.2" stroke="#888" stroke-width="2" stroke-dasharray="6,6"/>
<text x="1995.8" y="2133.8" font-size="24" fill="#2b2b2b">Bottom Line</text>
<path d="M2179.19,2130.00H2203.21L2191.20,2114.40Z" fill="#1a9e4b"/>
<text x="2231.3" y="2133.8" font-size="24" fill="#2b2b2b">Ribbon Flip Up</text>
<path d="M2443.59,2120.40H2467.61L2455.60,2136.00Z" fill="#d62728"/>
<text x="2495.5" y="2133.8" font-size="24" fill="#2b2b2b">Ribbon Flip Down</text>
<path d="M2739.85,2118.90H2768.95L2754.40,2137.80Z" fill="#e63946"/>
<text x="2794.8" y="2133.8" font-size="24" fill="#2b2b2b">Sell Signal</text>
<path d="M2954.85,2131.30H2983.95L2969.40,2112.40Z" fill="#2fa14e"/>
<text x="3009" y="2133.8" font-size="24" fill="#2b2b2b">Buy Signal</text>
</svg>
</body></html>
